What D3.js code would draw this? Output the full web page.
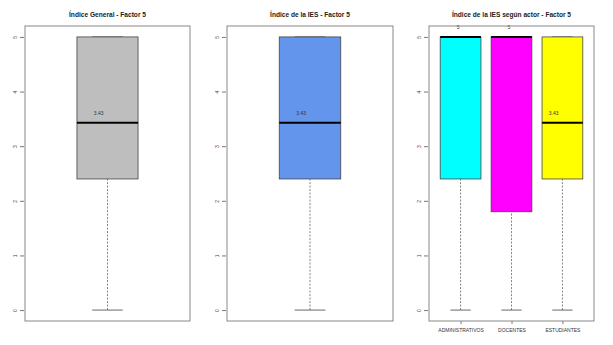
<!DOCTYPE html>
<html>
<head>
<meta charset="utf-8">
<script src="https://cdn.jsdelivr.net/npm/d3@7"></script>
<style>
  html, body { margin: 0; padding: 0; background: #fff; }
  svg { display: block; font-family: "Liberation Sans", Arial, sans-serif; }
</style>
</head>
<body>
<svg id="chart" width="613" height="345"></svg>
<script>
// Panel titles
const titles = [
  "Índice General - Factor 5",
  "Índice de la IES - Factor 5",
  "Índice de la IES según actor - Factor 5"
];

// Categories per panel (empty label = single unlabeled box)
const catsGeneral = [""];
const catsIES = [""];
const catsActor = ["ADMINISTRATIVOS", "DOCENTES", "ESTUDIANTES"];

// Five-number summaries: [min, q1, median, q3, max]
const statsGeneral = [[0, 2.4, 3.43, 5, 5]];
const statsIES = [[0, 2.4, 3.43, 5, 5]];
const statsActor = [
  [0, 2.4, 5, 5, 5],
  [0, 1.8, 5, 5, 5],
  [0, 2.4, 3.43, 5, 5]
];

// Fill colours
const fillsGeneral = ["#bebebe"];
const fillsIES = ["#6495ed"];
const fillsActor = ["#00ffff", "#ff00ff", "#ffff00"];

// Y axis ticks
const yTicks = [0, 1, 2, 3, 4, 5];

const panels = [
  { title: titles[0], cats: catsGeneral, stats: statsGeneral, fills: fillsGeneral, x0: 25, x1: 190, boxW: 0.4, showX: false },
  { title: titles[1], cats: catsIES, stats: statsIES, fills: fillsIES, x0: 227, x1: 393, boxW: 0.4, showX: false },
  { title: titles[2], cats: catsActor, stats: statsActor, fills: fillsActor, x0: 429, x1: 594, boxW: 0.8, showX: true }
];

const svg = d3.select("#chart");
const plotTop = 26, plotBottom = 321;
const y = d3.scaleLinear().domain([-0.2, 5.2]).range([plotBottom, plotTop]);

const fmt = v => (Math.round(v * 100) / 100).toString();

panels.forEach(p => {
  const n = p.cats.length;
  const pad = 0.04 * n;
  const x = d3.scaleLinear().domain([0.5 - pad, n + 0.5 + pad]).range([p.x0, p.x1]);
  const unit = x(1) - x(0);
  const g = svg.append("g");

  // title
  g.append("text")
    .attr("x", (p.x0 + p.x1) / 2)
    .attr("y", 17)
    .attr("text-anchor", "middle")
    .attr("font-size", 6.6)
    .attr("font-weight", "bold")
    .attr("fill", "#222")
    .text(p.title);

  // y axis (ticks + rotated labels)
  const yAxis = d3.axisLeft(y).tickValues(yTicks).tickSize(4).tickPadding(3).tickFormat(d3.format("d"));
  const ya = g.append("g").attr("transform", `translate(${p.x0 - 1},0)`).call(yAxis);
  ya.select(".domain").remove();
  ya.selectAll(".tick line").attr("stroke", "#555").attr("stroke-width", 0.8);
  ya.selectAll(".tick text")
    .attr("font-size", 5)
    .attr("fill", "#444")
    .attr("text-anchor", "middle")
    .attr("x", null).attr("dy", null)
    .attr("transform", "translate(-8,0) rotate(-90)")
    .attr("dominant-baseline", "middle")
    .attr("font-family", "Liberation Sans, Arial, sans-serif");

  // x axis for grouped panel
  if (p.showX) {
    const xa = g.append("g").attr("transform", `translate(0,${plotBottom})`)
      .call(d3.axisBottom(x).tickValues(d3.range(1, n + 1)).tickSize(3).tickPadding(4)
        .tickFormat((d, i) => p.cats[i]));
    xa.select(".domain").remove();
    xa.selectAll(".tick line").attr("stroke", "#555").attr("stroke-width", 0.8);
    xa.selectAll(".tick text").attr("font-size", 5).attr("fill", "#333")
      .attr("font-family", "Liberation Sans, Arial, sans-serif");
  }

  p.stats.forEach((s, i) => {
    const cx = x(i + 1);
    const hw = p.boxW * unit / 2;
    const [mn, q1, med, q3, mx] = s;

    // lower whisker
    g.append("line")
      .attr("x1", cx).attr("x2", cx)
      .attr("y1", y(mn)).attr("y2", y(q1))
      .attr("stroke", "#666").attr("stroke-width", 0.8)
      .attr("stroke-dasharray", "2,1.5");
    // upper whisker (zero length here, still drawn)
    g.append("line")
      .attr("x1", cx).attr("x2", cx)
      .attr("y1", y(q3)).attr("y2", y(mx))
      .attr("stroke", "#666").attr("stroke-width", 0.8)
      .attr("stroke-dasharray", "2,1.5");
    // caps
    [mn, mx].forEach(v => {
      g.append("line")
        .attr("x1", cx - hw / 2).attr("x2", cx + hw / 2)
        .attr("y1", y(v)).attr("y2", y(v))
        .attr("stroke", "#444").attr("stroke-width", 0.8);
    });
    // box
    g.append("rect")
      .attr("x", cx - hw).attr("width", 2 * hw)
      .attr("y", y(q3)).attr("height", y(q1) - y(q3))
      .attr("fill", p.fills[i])
      .attr("stroke", "#444").attr("stroke-width", 0.8);
    // median
    g.append("line")
      .attr("x1", cx - hw).attr("x2", cx + hw)
      .attr("y1", y(med)).attr("y2", y(med))
      .attr("stroke", "#000").attr("stroke-width", 2);
    // median label
    const t = g.append("text")
      .attr("y", y(med) - 8)
      .attr("text-anchor", "middle")
      .attr("font-size", 5)
      .attr("fill", "#333")
      .text(fmt(med));
    const w = t.node().getComputedTextLength();
    t.attr("x", cx - 0.9 * w);
  });

  // frame
  g.append("rect")
    .attr("x", p.x0).attr("y", plotTop)
    .attr("width", p.x1 - p.x0).attr("height", plotBottom - plotTop)
    .attr("fill", "none").attr("stroke", "#888").attr("stroke-width", 1);
});
</script>
</body>
</html>
